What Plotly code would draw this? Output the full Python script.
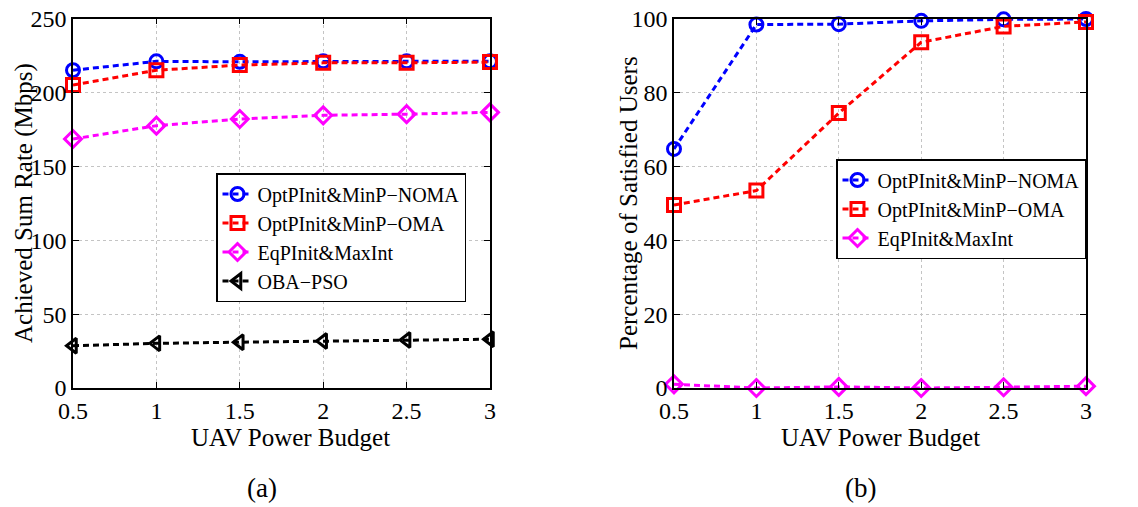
import plotly.graph_objects as go

# UAV power budget (x axis, both panels)
power = [0.5, 1, 1.5, 2, 2.5, 3]

# (a) achieved sum rate in Mbps
rate_noma = [215, 221, 220.7, 221, 221, 221]
rate_oma = [205, 215, 218.5, 220, 220, 220.5]
rate_eqp = [168.5, 177.5, 182, 184.5, 185.3, 186.5]
rate_pso = [28.6, 30.2, 31, 31.8, 32.5, 33]

# (b) percentage of satisfied users
sat_noma = [64.8, 98.5, 98.6, 99.5, 99.9, 100]
sat_oma = [49.6, 53.5, 74.5, 93.7, 98, 99.2]
sat_eqp = [1, 0, 0.3, 0, 0.2, 0.5]

FONT = "Liberation Serif"
DASH = "6px,4px"
# page body has an 8px default margin, so the figure is drawn 8px smaller
OFF = 8
W, H = 1138 - OFF, 507 - OFF


def px(x):
    return (x - OFF) / W


def py(y):
    return 1 - (y - OFF) / H


fig = go.Figure()

styles = [
    ("OptPInit&MinP\u2212NOMA", "blue", "circle-open"),
    ("OptPInit&MinP\u2212OMA", "red", "square-open"),
    ("EqPInit&MaxInt", "magenta", "diamond-open"),
    ("OBA\u2212PSO", "black", "triangle-left-open"),
]

# left panel
for (name, col, sym), y in zip(styles, [rate_noma, rate_oma, rate_eqp, rate_pso]):
    fig.add_trace(go.Scatter(
        x=power, y=y, name=name, mode="lines+markers",
        line=dict(color=col, width=3, dash=DASH),
        marker=dict(symbol=sym, size=13, color=col, line=dict(width=3, color=col)),
        xaxis="x", yaxis="y", legend="legend", cliponaxis=False,
    ))

# right panel
for (name, col, sym), y in zip(styles[:3], [sat_noma, sat_oma, sat_eqp]):
    fig.add_trace(go.Scatter(
        x=power, y=y, name=name, mode="lines+markers",
        line=dict(color=col, width=3, dash=DASH),
        marker=dict(symbol=sym, size=13, color=col, line=dict(width=3, color=col)),
        xaxis="x2", yaxis="y2", legend="legend2", cliponaxis=False,
    ))

ax_common = dict(
    showline=True, linecolor="black", linewidth=1.5, mirror="ticks",
    ticks="inside", ticklen=6, tickcolor="black", automargin=False,
    ticklabeloverflow="allow",
    showgrid=True, gridcolor="#c4c4c4", griddash="dot", gridwidth=1,
    zeroline=False, tickfont=dict(family=FONT, size=24, color="black"),
)

xtick = dict(range=[0.5, 3], tickvals=power, ticktext=["0.5", "1", "1.5", "2", "2.5", "3"])


def note(text, x, y, size=25, angle=0):
    return dict(text=text, x=px(x), y=py(y), xref="paper", yref="paper",
                xanchor="center", yanchor="middle", showarrow=False, textangle=angle,
                font=dict(family=FONT, size=size, color="black"))


legend_style = dict(xanchor="left", yanchor="top", bgcolor="white",
                    bordercolor="black", borderwidth=1.5,
                    font=dict(family=FONT, size=20), tracegroupgap=0, itemwidth=30)

fig.update_layout(
    width=W, height=H,
    margin=dict(l=0, r=0, t=0, b=0),
    paper_bgcolor="white", plot_bgcolor="white",
    font=dict(family=FONT, color="black"),
    xaxis=dict(domain=[px(73), px(490)], anchor="y", **xtick, **ax_common),
    yaxis=dict(domain=[py(388), py(18.5)], anchor="x", range=[0, 250], dtick=50, **ax_common),
    xaxis2=dict(domain=[px(674), px(1086)], anchor="y2", **xtick, **ax_common),
    yaxis2=dict(domain=[py(388), py(19)], anchor="x2", range=[0, 100], dtick=20, **ax_common),
    legend=dict(x=px(216), y=py(173), **legend_style),
    legend2=dict(x=px(836), y=py(159), **legend_style),
    annotations=[
        note("Achieved Sum Rate (Mbps)", 24, 203, angle=-90),
        note("Percentage of Satisfied Users", 628, 203, angle=-90),
        note("UAV Power Budget", 290, 437),
        note("UAV Power Budget", 880, 437),
        note("(a)", 262, 488, size=27),
        note("(b)", 860, 488, size=27),
    ],
)

fig.write_html("out.html")
